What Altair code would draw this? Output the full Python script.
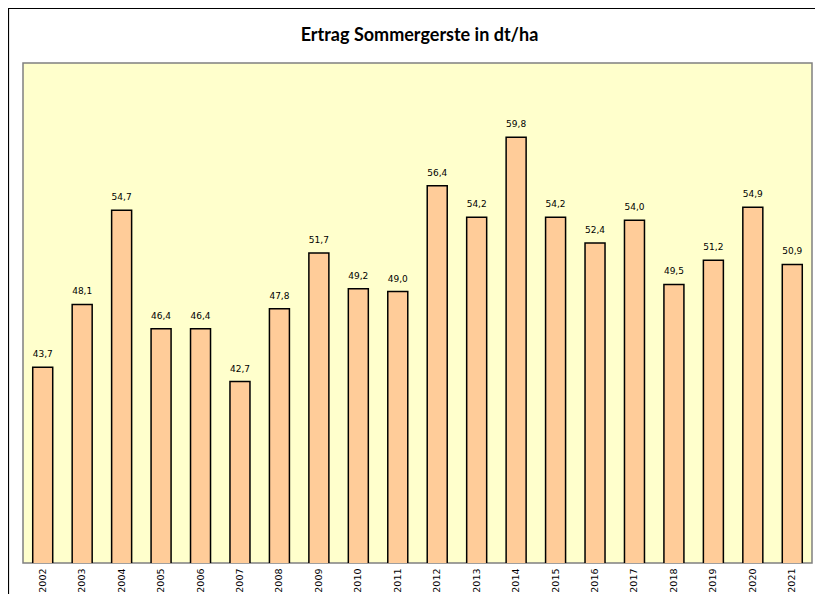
import altair as alt
import pandas as pd

years = [str(y) for y in range(2002, 2022)]
values = [43.7, 48.1, 54.7, 46.4, 46.4, 42.7, 47.8, 51.7, 49.2, 49.0,
          56.4, 54.2, 59.8, 54.2, 52.4, 54.0, 49.5, 51.2, 54.9, 50.9]
labels = [f"{v:.1f}".replace(".", ",") for v in values]
title_text = "Ertrag Sommergerste in dt/ha"

df = pd.DataFrame({"Jahr": years, "Ertrag": values, "Label": labels})

W, H = 789, 500

base = alt.Chart(df)

bars = base.mark_bar(color="#FFCC99", stroke="#000000", strokeWidth=1.5,
                     size=20, clip=True).encode(
    x=alt.X("Jahr:N", sort=years,
            scale=alt.Scale(paddingInner=0.49, paddingOuter=0.245),
            axis=alt.Axis(title=None, labelAngle=-90, labelFont="DejaVu Sans",
                          labelFontSize=9.5, labelColor="#000000", ticks=False,
                          domain=False, labelPadding=5, labelAlign="right",
                          labelBaseline="middle")),
    y=alt.Y("Ertrag:Q", scale=alt.Scale(domain=[30, 65], nice=False, zero=False),
            axis=None),
)

text = base.mark_text(baseline="alphabetic", dy=-10, font="DejaVu Sans",
                      fontSize=9, color="#000000").encode(
    x=alt.X("Jahr:N", sort=years),
    y="Ertrag:Q",
    text="Label:N",
)

one = pd.DataFrame({"t": [title_text]})

frame = alt.Chart(one).mark_rect(
    fillOpacity=0, stroke="#000000", strokeWidth=1.2, clip=False).encode(
    x=alt.value(-14.5), x2=alt.value(W + 200),
    y=alt.value(-54.5), y2=alt.value(H + 200),
)

title = alt.Chart(one).mark_text(
    font="Lato", fontSize=18, fontWeight="bold", color="#000000",
    align="center", baseline="alphabetic", clip=False).encode(
    x=alt.value(W / 2 + 2), y=alt.value(-22.5), text="t:N")

chart = alt.layer(frame, bars, text, title).properties(
    width=W, height=H,
    padding={"left": 15, "top": 55, "right": 3, "bottom": 31},
    autosize=alt.AutoSizeParams(type="none"),
).configure(background="#FFFFFF"
).configure_view(fill="#FFFFCC", stroke="#808080", strokeWidth=1.5)

chart.save("out.html", embed_options={"renderer": "svg", "actions": False})
